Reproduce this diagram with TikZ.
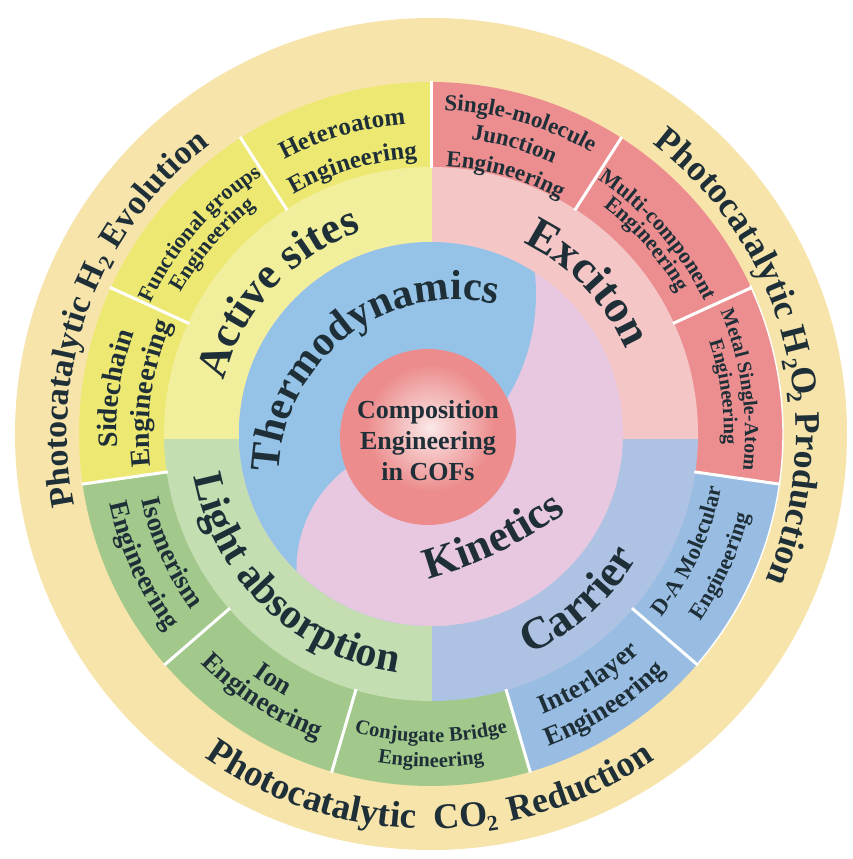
\documentclass[tikz,border=0pt]{standalone}
\usepackage{fontspec}
\setmainfont{Liberation Serif}
\usetikzlibrary{decorations.text}
\definecolor{beigec}{HTML}{F7E4AA}
\definecolor{engY}{HTML}{EDE872}
\definecolor{engG}{HTML}{A2C98B}
\definecolor{engB}{HTML}{99BDE2}
\definecolor{engP}{HTML}{EC8E8F}
\definecolor{catY}{HTML}{F2EF9C}
\definecolor{catG}{HTML}{C4DEB2}
\definecolor{catB}{HTML}{AEC3E3}
\definecolor{catP}{HTML}{F5C6C6}
\definecolor{thermoc}{HTML}{95C3E8}
\definecolor{kinc}{HTML}{E7C8E0}
\definecolor{redc}{HTML}{EC8C8C}
\definecolor{txtc}{HTML}{1E2F38}
% curved text, tops outward, centred on angle #2
\newcommand{\arcOC}[4]{\path[decorate,decoration={text along path,text align=center,text color=txtc,
  text={|\fontsize{#3}{#3}\selectfont\bfseries|#4}}]
  ({#2+75}:#1pt) arc[start angle={#2+75},end angle={#2-75},radius=#1pt];}
% curved text, tops inward, centred on angle #2
\newcommand{\arcIC}[4]{\path[decorate,decoration={text along path,text align=center,text color=txtc,
  text={|\fontsize{#3}{#3}\selectfont\bfseries|#4}}]
  ({#2-75}:#1pt) arc[start angle={#2-75},end angle={#2+75},radius=#1pt];}
% tops outward, starting at angle #2
\newcommand{\arcOL}[4]{\path[decorate,decoration={text along path,text align=left,text color=txtc,
  text={|\fontsize{#3}{#3}\selectfont\bfseries|#4}}]
  ({#2}:#1pt) arc[start angle={#2},end angle={#2-90},radius=#1pt];}
% tops outward, ending at angle #2
\newcommand{\arcOR}[4]{\path[decorate,decoration={text along path,text align=right,text color=txtc,
  text={|\fontsize{#3}{#3}\selectfont\bfseries|#4}}]
  ({#2+90}:#1pt) arc[start angle={#2+90},end angle={#2},radius=#1pt];}
% tops inward, starting at angle #2
\newcommand{\arcIL}[4]{\path[decorate,decoration={text along path,text align=left,text color=txtc,
  text={|\fontsize{#3}{#3}\selectfont\bfseries|#4}}]
  ({#2}:#1pt) arc[start angle={#2},end angle={#2+90},radius=#1pt];}
% single rotated pieces
\newcommand{\chO}[5]{\node[chr,rotate={#2-90},font=\fontsize{#3}{#3}\selectfont\bfseries] (#5) at ({#2}:#1pt) {#4};}
\newcommand{\chI}[5]{\node[chr,rotate={#2+90},font=\fontsize{#3}{#3}\selectfont\bfseries] (#5) at ({#2}:#1pt) {#4};}
\tikzset{chr/.style={anchor=base,inner sep=0pt,text=txtc}}
\begin{document}
\begin{tikzpicture}[x=1pt,y=1pt]
\useasboundingbox (-431,-425) rectangle (422,434);
\fill[white] (-431,-425) rectangle (422,434);
% outer beige ring
\fill[beigec] (0,0) circle[radius=416pt];
% engineering ring sectors
\foreach \k/\c in {0/engY,1/engY,2/engY,3/engG,4/engG,5/engG,6/engB,7/engB,8/engP,9/engP,10/engP}{
  \pgfmathsetmacro\aa{90+\k*360/11}
  \pgfmathsetmacro\bb{90+(\k+1)*360/11}
  \fill[\c] (0,0) -- (\aa:352pt) arc[start angle=\aa,end angle=\bb,radius=352pt] -- cycle;
}
\draw[white,line width=1.4pt] (-41:352pt) arc[start angle=-41,end angle=25,radius=352pt];
% category ring quadrants
\begin{scope}
  \clip (0,0) circle[radius=267pt];
  \fill[catY] (1,-5) rectangle (-300,300);
  \fill[catP] (1,-5) rectangle (300,300);
  \fill[catB] (1,-5) rectangle (300,-300);
  \fill[catG] (1,-5) rectangle (-300,-300);
\end{scope}
% white separators
\foreach \k in {0,...,10}{
  \draw[white,line width=3pt] ({90+\k*360/11}:266pt) -- ({90+\k*360/11}:353pt);
}
% thermodynamics / kinetics
\fill[kinc] (0,0) circle[radius=192pt];
\begin{scope}
  \clip (0,0) circle[radius=192pt];
  \fill[thermoc] (-97,140) circle[radius=202pt];
  \fill[thermoc] (0,0) -- (-300,170) -- (-300,-300) -- (0,-300) -- cycle;
  \fill[kinc] (-8.5,-135) circle[radius=126pt];
\end{scope}
% centre
\fill[redc] (-3,-3) circle[radius=88pt];
\shade[inner color=white!80!redc,outer color=redc] (-1,6) circle[radius=64pt];
\node[align=center,text=txtc,font=\fontsize{26}{31}\selectfont\bfseries] (core) at (-3,-7)
  {Composition\\Engineering\\in COFs};
% outer texts
\arcOR{364}{153.2}{34}{Photocatalytic H}
\chO{360}{152.2}{21}{2}{subA}
\arcOL{364}{149.7}{34}{Evolution}
\arcOR{365}{12.3}{36}{Photocatalytic H}
\chO{358}{10.9}{22}{2}{subB}
\chO{365}{8.1}{36}{O}{oxB}
\chO{358}{5.7}{22}{2}{subC}
\arcOL{365}{3.4}{36}{Production}
\arcIL{395}{235}{37}{Photocatalytic}
\chI{395}{274.4}{36}{CO}{coD}
\chI{402}{279.0}{22}{2}{subD}
\arcIL{395}{281.6}{36}{Reduction}
% engineering texts
\arcOC{311}{106.4}{25}{Heteroatom}
\arcOC{276}{106.4}{25}{Engineering}
\arcOC{309}{139.1}{22}{Functional groups}
\arcOC{287}{139.1}{22}{Engineering}
\arcOC{314}{171.8}{28}{Sidechain}
\arcOC{282}{171.8}{28}{Engineering}
\arcIC{297}{204.5}{27}{Isomerism}
\arcIC{329}{204.5}{27}{Engineering}
\arcIC{300}{237.3}{27}{Ion}
\arcIC{325}{237.3}{27}{Engineering}
\arcIC{308}{270}{20.5}{Conjugate Bridge}
\arcIC{333}{270}{20.5}{Engineering}
\arcIC{302}{302.7}{27}{Interlayer}
\arcIC{334}{302.7}{27}{Engineering}
\arcIC{295}{335.5}{22.5}{D-A Molecular}
\arcIC{328}{335.5}{22.5}{Engineering}
\arcOC{314}{8.2}{20}{Metal Single-Atom}
\arcOC{293}{8.2}{20}{Engineering}
\arcOC{304}{41.3}{22}{Multi-component}
\arcOC{285}{41.3}{22}{Engineering}
\arcOC{324}{74}{23}{Single-molecule}
\arcOC{297}{74}{23}{Junction}
\arcOC{268}{74}{23}{Engineering}
% category texts
\arcOC{214}{137.3}{44}{Active sites}
\arcOC{212}{43.9}{46}{Exciton}
\arcIC{241}{-48.5}{45}{Carrier}
\arcIC{241}{226}{42}{Light absorption}
\begin{scope}[shift={(25,-43)}]
  \arcOC{177}{127.6}{42}{Thermodynamics}
\end{scope}
\begin{scope}[shift={(-111,257)}]
  \arcIC{416}{-64.3}{44}{Kinetics}
\end{scope}
\end{tikzpicture}
\end{document}
